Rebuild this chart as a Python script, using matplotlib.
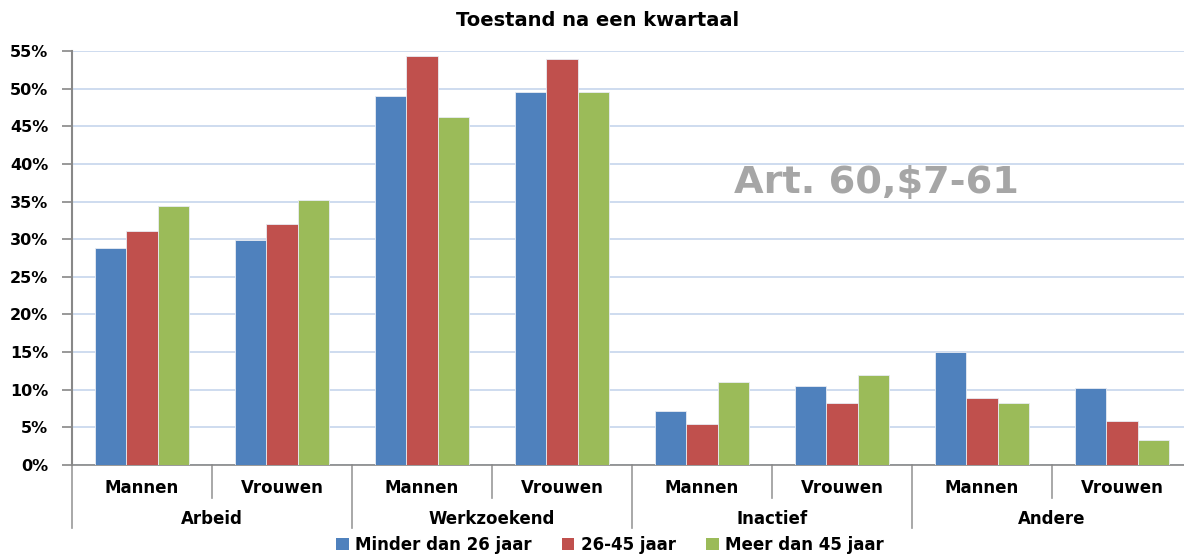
import numpy as np
import matplotlib.pyplot as plt
import matplotlib.transforms as mtransforms
from matplotlib.patches import Patch

# Data (percentages)
groups = ['Arbeid', 'Werkzoekend', 'Inactief', 'Andere']
subgroups = ['Mannen', 'Vrouwen']
series = ['Minder dan 26 jaar', '26-45 jaar', 'Meer dan 45 jaar']
minder_26 = [28.8, 29.9, 49.0, 49.5, 7.2, 10.5, 15.0, 10.2]
jaar_26_45 = [31.1, 32.0, 54.3, 53.9, 5.5, 8.3, 8.9, 5.8]
meer_45 = [34.4, 35.2, 46.2, 49.5, 11.0, 12.0, 8.3, 3.3]
yticks = [0, 5, 10, 15, 20, 25, 30, 35, 40, 45, 50, 55]

colors = ['#4F81BD', '#C0504D', '#9BBB59']
values = [minder_26, jaar_26_45, meer_45]

fig = plt.figure(figsize=(11.84, 5.55), dpi=100)
ax = fig.add_axes([72 / 1184, 1 - 465 / 555, 1112 / 1184, 414 / 555])

x = np.arange(len(minder_26))
w = 0.222
for i, (vals, c) in enumerate(zip(values, colors)):
    ax.bar(x + (i - 1) * w, vals, width=w, color=c, edgecolor='#e8ecf3',
           linewidth=0.6, zorder=3)

ax.set_xlim(-0.5, -0.5 + 1112 / 140)
ax.set_ylim(0, 55)
ax.set_yticks(yticks)
ax.set_yticklabels([f'{t}%' for t in yticks], fontsize=11.5, fontweight='bold')
ax.yaxis.grid(True, color='#c6d5ec', linewidth=1.2, zorder=0)
ax.set_xticks([])
ax.tick_params(axis='y', length=7, color='#888888', width=1.2, pad=10)

for s in ['top', 'right']:
    ax.spines[s].set_visible(False)
ax.spines['left'].set_color('#888888')
ax.spines['left'].set_linewidth(1.5)
ax.spines['bottom'].set_color('#888888')
ax.spines['bottom'].set_linewidth(1.2)

# category labels below axis
trans = mtransforms.blended_transform_factory(ax.transData, ax.transAxes)
lab_y = -23 / 414
grp_y = -54 / 414
for k in range(len(x)):
    ax.text(k, lab_y, subgroups[k % 2], transform=trans, ha='center', va='center',
            fontsize=12, fontweight='bold')
for g, name in enumerate(groups):
    ax.text(2 * g + 0.5, grp_y, name, transform=trans, ha='center', va='center',
            fontsize=12, fontweight='bold')

# separators
for k in range(len(x) + 1):
    pos = k - 0.5
    bottom = -63 / 414 if k % 2 == 0 else -33 / 414
    ax.plot([pos, pos], [0, bottom], transform=trans, color='#999999',
            linewidth=1.2, clip_on=False)

# watermark
ax.text(876 / 1184, 1 - 183 / 555, 'Art. 60,$7-61', transform=fig.transFigure,
        ha='center', va='center', fontsize=27.5, fontweight='bold',
        color='#a6a6a6')

fig.text(598 / 1184, 1 - 20 / 555, 'Toestand na een kwartaal', ha='center',
         va='center', fontsize=14, fontweight='bold')

handles = [Patch(facecolor=c, label=s) for c, s in zip(colors, series)]
fig.legend(handles=handles, loc='center', bbox_to_anchor=(610 / 1184, 1 - 545 / 555),
           ncol=3, frameon=False, prop={'size': 12, 'weight': 'bold'},
           handlelength=0.75, handleheight=0.75, columnspacing=1.8,
           handletextpad=0.4, borderpad=0.0)

fig.savefig('out.png', dpi=100, facecolor='white')
